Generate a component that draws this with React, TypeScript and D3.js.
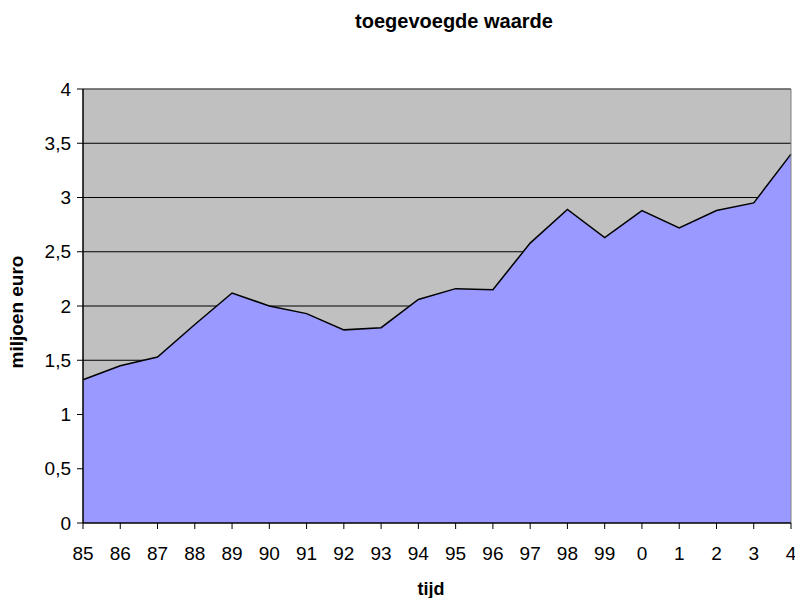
import React from "react";
import * as d3 from "d3";

const years = ["85", "86", "87", "88", "89", "90", "91", "92", "93", "94", "95", "96", "97", "98", "99", "0", "1", "2", "3", "4"];
const values = [1.32, 1.45, 1.53, 1.83, 2.12, 2.0, 1.93, 1.78, 1.8, 2.06, 2.16, 2.15, 2.58, 2.89, 2.63, 2.88, 2.72, 2.88, 2.95, 3.4];
const yTicks = [0, 0.5, 1, 1.5, 2, 2.5, 3, 3.5, 4];

const width = 795;
const height = 598;
const margin = { top: 89, right: 4, bottom: 75, left: 83 };
const font = "'Liberation Sans', Arial, sans-serif";

function App() {
  const x = d3
    .scalePoint()
    .domain(years)
    .range([margin.left, width - margin.right]);
  const y = d3
    .scaleLinear()
    .domain([0, 4])
    .range([height - margin.bottom, margin.top]);

  const data = years.map((yr, i) => ({ yr, v: values[i] }));
  const area = d3
    .area()
    .x((d) => x(d.yr))
    .y0(y(0))
    .y1((d) => y(d.v));
  const line = d3
    .line()
    .x((d) => x(d.yr))
    .y((d) => y(d.v));

  const x0 = margin.left;
  const x1 = width - margin.right;
  const yTop = y(4);
  const yBot = y(0);

  return (
    <svg
      width={width}
      height={height}
      style={{ position: "absolute", left: 0, top: 0, background: "#fff" }}
      fontFamily={font}
    >
      <text x={454} y={28} textAnchor="middle" fontSize={20} fontWeight="bold">
        toegevoegde waarde
      </text>

      <rect x={x0} y={yTop} width={x1 - x0} height={yBot - yTop} fill="#c0c0c0" />
      {yTicks.slice(1).map((t) => (
        <line key={t} x1={x0} x2={x1} y1={y(t)} y2={y(t)} stroke="#000" strokeWidth={1} />
      ))}
      <path d={area(data)} fill="#9999ff" />
      <path d={line(data)} fill="none" stroke="#000" strokeWidth={1.5} />
      <line x1={x0} x2={x1} y1={yTop} y2={yTop} stroke="#808080" />
      <line x1={x1} x2={x1} y1={yTop} y2={yBot} stroke="#808080" />

      {/* y axis */}
      <line x1={x0} x2={x0} y1={yTop} y2={yBot} stroke="#000" strokeWidth={1.5} />
      {yTicks.map((t) => (
        <g key={t}>
          <line x1={x0 - 6} x2={x0} y1={y(t)} y2={y(t)} stroke="#000" />
          <text x={x0 - 12} y={y(t)} dy="0.35em" textAnchor="end" fontSize={19}>
            {String(t).replace(".", ",")}
          </text>
        </g>
      ))}

      {/* x axis */}
      <line x1={x0} x2={x1} y1={yBot} y2={yBot} stroke="#000" strokeWidth={1.5} />
      {years.map((yr) => (
        <g key={yr}>
          <line x1={x(yr)} x2={x(yr)} y1={yBot} y2={yBot + 6} stroke="#000" />
          <text x={x(yr)} y={yBot + 37} textAnchor="middle" fontSize={19}>
            {yr}
          </text>
        </g>
      ))}

      <text x={431} y={595} textAnchor="middle" fontSize={18} fontWeight="bold">
        tijd
      </text>
      <text
        transform={`translate(23, 312) rotate(-90)`}
        textAnchor="middle"
        fontSize={19}
        fontWeight="bold"
      >
        miljoen euro
      </text>
    </svg>
  );
}

export default App;
